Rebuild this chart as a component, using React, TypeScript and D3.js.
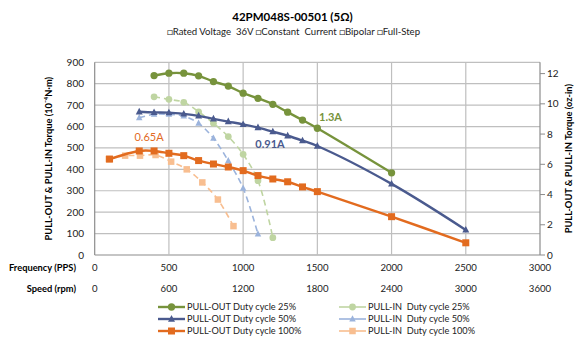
import React from 'react';
import * as d3 from 'd3';

const title = '42PM048S-00501 (5Ω)';
const subtitle = '□Rated Voltage  36V □Constant  Current □Bipolar □Full-Step';

const freqTicks = [0, 500, 1000, 1500, 2000, 2500, 3000];
const speedTicks = [0, 600, 1200, 1800, 2400, 3000, 3600];
const torqueTicks = [0, 100, 200, 300, 400, 500, 600, 700, 800, 900];
const ozTicks = [0, 2, 4, 6, 8, 10, 12];

const pullOut25Freq = [400, 500, 600, 700, 800, 900, 1000, 1100, 1200, 1300, 1400, 1500, 2000];
const pullOut25 = [838, 849, 849, 837, 810, 789, 756, 732, 704, 667, 630, 592, 384];

const pullOut50Freq = [300, 400, 500, 600, 700, 800, 900, 1000, 1100, 1200, 1300, 1400, 1500, 2000, 2500];
const pullOut50 = [669, 666, 665, 659, 650, 636, 623, 610, 595, 576, 557, 534, 509, 332, 117];

const pullOut100Freq = [100, 300, 400, 500, 600, 700, 800, 900, 1000, 1100, 1200, 1300, 1400, 1500, 2000, 2500];
const pullOut100 = [448, 486, 486, 475, 464, 441, 425, 411, 394, 371, 355, 342, 318, 296, 179, 57];

const pullIn25Freq = [400, 500, 600, 700, 800, 900, 1000, 1100, 1200];
const pullIn25 = [739, 727, 713, 669, 615, 553, 470, 347, 81];

const pullIn50Freq = [300, 400, 500, 600, 700, 800, 900, 1000, 1100];
const pullIn50 = [641, 657, 657, 649, 615, 545, 440, 312, 98];

const pullIn100Freq = [95, 205, 305, 410, 515, 620, 725, 830, 935];
const pullIn100 = [448, 464, 464, 467, 436, 400, 339, 259, 135];

type Marker = 'circle' | 'triangle' | 'square';

const series = [
  { name: 'PULL-OUT Duty cycle 25%', f: pullOut25Freq, v: pullOut25, color: '#77933C', dash: false, marker: 'circle' as Marker },
  { name: 'PULL-OUT Duty cycle 50%', f: pullOut50Freq, v: pullOut50, color: '#4A5A8E', dash: false, marker: 'triangle' as Marker },
  { name: 'PULL-OUT Duty cycle 100%', f: pullOut100Freq, v: pullOut100, color: '#E26B1F', dash: false, marker: 'square' as Marker },
  { name: 'PULL-IN  Duty cycle 25%', f: pullIn25Freq, v: pullIn25, color: '#BFD5A2', dash: true, marker: 'circle' as Marker },
  { name: 'PULL-IN  Duty cycle 50%', f: pullIn50Freq, v: pullIn50, color: '#9BB3DC', dash: true, marker: 'triangle' as Marker },
  { name: 'PULL-IN  Duty cycle 100%', f: pullIn100Freq, v: pullIn100, color: '#F8BE90', dash: true, marker: 'square' as Marker },
];

const W = 579;
const H = 338;
const left = 94.7;
const right = 540;
const top = 62.3;
const bottom = 255;

const font = 'Lato, "Liberation Sans", sans-serif';

function MarkerShape({ type, x, y, color, s }: { type: Marker; x: number; y: number; color: string; s: number }) {
  if (type === 'circle') return <circle cx={x} cy={y} r={s * 0.52} fill={color} />;
  if (type === 'square') return <rect x={x - s / 2} y={y - s / 2} width={s} height={s} fill={color} />;
  const h = s * 0.95;
  return <path d={`M${x},${y - h * 0.6}L${x + s / 2},${y + h * 0.4}L${x - s / 2},${y + h * 0.4}Z`} fill={color} />;
}

export default function App() {
  const x = d3.scaleLinear().domain([0, 3000]).range([left, right]);
  const y = d3.scaleLinear().domain([0, 900]).range([bottom, top]);
  const yR = d3.scaleLinear().domain([0, 900 / 70.6]).range([bottom, top]);
  const speedX = d3.scaleLinear().domain([0, 3600]).range([left, right]);

  const line = d3
    .line<[number, number]>()
    .x((d) => x(d[0]))
    .y((d) => y(d[1]))
    .curve(d3.curveCatmullRom.alpha(0.5));

  const grid = '#BFBFBF';
  const axisCol = '#8C8C8C';

  const legendRows = [307, 319, 331];

  return (
    <svg width={W} height={H} style={{ position: 'absolute', left: 0, top: 0, background: '#fff' }} fontFamily={font}>
      <rect width={W} height={H} fill="#fff" />
      <text x={292.5} y={20.5} textAnchor="middle" fontSize={11.5} fontWeight="bold" fill="#000">
        {title}
      </text>
      <text x={293.5} y={35} textAnchor="middle" fontSize={9.6} fill="#222" style={{ whiteSpace: 'pre' }}>
        {subtitle}
      </text>

      {/* gridlines */}
      {torqueTicks.map((t) => (
        <line key={'h' + t} x1={left} x2={right} y1={y(t)} y2={y(t)} stroke={t === 0 ? axisCol : grid} strokeWidth={1.2} />
      ))}
      {freqTicks.map((t) => (
        <line key={'v' + t} x1={x(t)} x2={x(t)} y1={top} y2={bottom} stroke={t === 0 || t === 3000 ? axisCol : grid} strokeWidth={1.2} />
      ))}
      {ozTicks.map((t) => (
        <line key={'rt' + t} x1={right} x2={right + 5} y1={yR(t)} y2={yR(t)} stroke={axisCol} />
      ))}

      {/* left ticks */}
      {torqueTicks.map((t) => (
        <text key={'lt' + t} x={84} y={y(t)} dy="0.35em" textAnchor="end" fontSize={10} fill="#222">
          {t}
        </text>
      ))}
      {ozTicks.map((t) => (
        <text key={'ot' + t} x={547} y={yR(t)} dy="0.35em" textAnchor="start" fontSize={10} fill="#222">
          {t}
        </text>
      ))}

      <text transform={`translate(52,${(top + bottom) / 2}) rotate(-90)`} textAnchor="middle" fontSize={9.3} fontWeight="bold" fill="#000">
        PULL-OUT &amp; PULL-IN Torque (10⁻⁴N·m)
      </text>
      <text transform={`translate(572,${(top + bottom) / 2}) rotate(-90)`} textAnchor="middle" fontSize={9.3} fontWeight="bold" fill="#000">
        PULL-OUT &amp; PULL-IN Torque (oz-in)
      </text>

      {/* bottom labels */}
      <text x={76} y={268} dy="0.35em" textAnchor="end" fontSize={9.3} fontWeight="bold" fill="#000">
        Frequency (PPS)
      </text>
      <text x={76} y={289} dy="0.35em" textAnchor="end" fontSize={9.3} fontWeight="bold" fill="#000">
        Speed (rpm)
      </text>
      {freqTicks.map((t) => (
        <text key={'fx' + t} x={x(t)} y={268} dy="0.35em" textAnchor="middle" fontSize={9.6} fill="#222">
          {t}
        </text>
      ))}
      {speedTicks.map((t) => (
        <text key={'sx' + t} x={speedX(t)} y={289} dy="0.35em" textAnchor="middle" fontSize={9.6} fill="#222">
          {t}
        </text>
      ))}

      {/* series: pull-in first (dashed) then pull-out */}
      {[3, 4, 5, 0, 1, 2].map((i) => {
        const s = series[i];
        const pts = s.f.map((f, j) => [f, s.v[j]] as [number, number]);
        return (
          <g key={s.name}>
            <path
              d={line(pts) || ''}
              fill="none"
              stroke={s.color}
              strokeWidth={s.dash ? 1.6 : 2.4}
              strokeDasharray={s.dash ? '6,4' : undefined}
            />
            {pts.map((p, j) => (
              <MarkerShape key={j} type={s.marker} x={x(p[0])} y={y(p[1])} color={s.color} s={s.dash ? 6.5 : 7} />
            ))}
          </g>
        );
      })}

      {/* current labels */}
      <text x={319} y={121} fontSize={11} fontWeight="bold" fill="#77933C">1.3A</text>
      <text x={270} y={148} textAnchor="middle" fontSize={11} fontWeight="bold" fill="#4A5A8E">0.91A</text>
      <text x={149} y={141} textAnchor="middle" fontSize={11} fill="#E26B1F">0.65A</text>

      {/* legend */}
      {series.map((s, i) => {
        const col = i < 3 ? 0 : 1;
        const row = i % 3;
        const lx = col === 0 ? 158 : 339;
        const ly = legendRows[row];
        return (
          <g key={'lg' + i}>
            <line x1={lx} x2={lx + 27} y1={ly} y2={ly} stroke={s.color} strokeWidth={s.dash ? 1.6 : 2.4} />
            <MarkerShape type={s.marker} x={lx + 13.5} y={ly} color={s.color} s={s.dash ? 6.5 : 7} />
            <text x={lx + 29} y={ly} dy="0.35em" fontSize={9.2} fill="#222" style={{ whiteSpace: 'pre' }}>
              {s.name}
            </text>
          </g>
        );
      })}
    </svg>
  );
}
